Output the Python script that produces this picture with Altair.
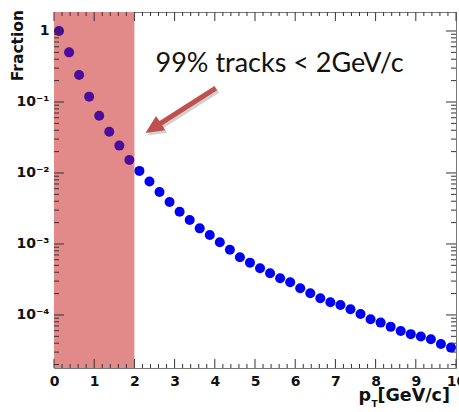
import altair as alt
import pandas as pd

# Track transverse-momentum spectrum (fraction per 0.25 GeV/c bin)
pt = [0.125, 0.375, 0.625, 0.875, 1.125, 1.375, 1.625, 1.875,
      2.125, 2.375, 2.625, 2.875, 3.125, 3.375, 3.625, 3.875,
      4.125, 4.375, 4.625, 4.875, 5.125, 5.375, 5.625, 5.875,
      6.125, 6.375, 6.625, 6.875, 7.125, 7.375, 7.625, 7.875,
      8.125, 8.375, 8.625, 8.875, 9.125, 9.375, 9.625, 9.875]
fraction = [1.0, 0.50, 0.24, 0.119, 0.064, 0.038, 0.0243, 0.0152,
            0.0107, 0.0076, 0.0054, 0.0039, 0.00285, 0.00218, 0.00166, 0.00134,
            0.00106, 0.00083, 0.00065, 0.000546, 0.000455, 0.000387, 0.000329, 0.000289,
            0.000238, 0.000202, 0.000172, 0.000151, 0.000138, 0.00012, 0.000103, 8.7e-5,
            7.8e-5, 6.8e-5, 5.95e-5, 5.37e-5, 4.96e-5, 4.55e-5, 3.9e-5, 3.47e-5]

# Shaded low-pT band
band_lo = [0.0]
band_hi = [2.0]

# Axis ticks and labels
x_major = [0, 1, 2, 3, 4, 5, 6, 7, 8, 9, 10]
x_minor = [i / 5 for i in range(51) if i % 5]
y_major = [1e-4, 1e-3, 1e-2, 1e-1, 1.0]
y_labels = ["10⁻⁴", "10⁻³", "10⁻²", "10⁻¹", "1"]
y_minor = [m * 10.0 ** k for k in range(-5, 1) for m in range(2, 10)
           if 1.79e-5 < m * 10.0 ** k < 1.85]

# Annotation: arrow tail -> tip, and text anchor
arrow_x = [4.025, 2.275]
arrow_y = [0.157, 0.0366]
note_x = [2.525]
note_y = [0.265]
note_text = ["99% tracks < 2GeV/c"]

W, H = 402, 356
FONT = "DejaVu Sans"
TICK = "#333333"
INK = "#111111"

xs = alt.Scale(domain=[0, 10], nice=False, zero=False)
ys = alt.Scale(type="log", domain=[1.79e-5, 1.852], nice=False)

label_expr = " : ".join(
    f"datum.value > {v * 0.5} ? '{lab}'" for v, lab in zip(reversed(y_major), reversed(y_labels))
) + " : ''"

x_axis = alt.Axis(values=x_major, labelFlush=False, domain=False, ticks=False,
                  grid=False, labelFont=FONT, labelFontSize=14,
                  labelFontWeight="bold", labelColor=INK, labelPadding=6, title=None)
y_axis = alt.Axis(values=y_major, labelExpr=label_expr, domain=False, ticks=False,
                  grid=False, labelFont=FONT, labelFontSize=14,
                  labelFontWeight="bold", labelColor=INK, labelPadding=5, title=None)


def X(field):
    return alt.X(field, scale=xs, axis=x_axis, title=None)


def Y(field):
    return alt.Y(field, scale=ys, axis=y_axis, title=None)


df = pd.DataFrame({"pt": pt, "fraction": fraction})

band = alt.Chart(pd.DataFrame({"lo": band_lo, "hi": band_hi})).mark_rect(
    color="#e28a8a", opacity=1
).encode(x=X("lo:Q"), x2="hi:Q", y=alt.value(0), y2=alt.value(H))

points = alt.Chart(df).mark_circle(size=100, opacity=1).encode(
    x=X("pt:Q"),
    y=Y("fraction:Q"),
    color=alt.condition(alt.datum.pt < band_hi[0], alt.value("#4b0c9e"), alt.value("#0000f2")),
)


def xticks(vals, length, top):
    d = pd.DataFrame({"v": vals})
    y0, y1 = (0, length) if top else (H, H - length)
    return alt.Chart(d).mark_rule(color=TICK, strokeWidth=1).encode(
        x=X("v:Q"), y=alt.value(y0), y2=alt.value(y1))


def yticks(vals, length, right):
    d = pd.DataFrame({"v": vals})
    x0, x1 = (W, W - length) if right else (0, length)
    return alt.Chart(d).mark_rule(color=TICK, strokeWidth=1).encode(
        y=Y("v:Q"), x=alt.value(x0), x2=alt.value(x1))


ticks = [
    xticks(x_major, 9, False), xticks(x_minor, 4, False),
    xticks(x_major, 9, True), xticks(x_minor, 4, True),
    yticks(y_major, 10, False), yticks(y_minor, 5, False),
    yticks(y_major, 10, True), yticks(y_minor, 5, True),
]

# Arrow: shaft stops short of the tip, head drawn as a rotated triangle
frac = 0.82
shaft = pd.DataFrame({
    "x": [arrow_x[0], arrow_x[0] + frac * (arrow_x[1] - arrow_x[0])],
    "y": [arrow_y[0], arrow_y[0] * (arrow_y[1] / arrow_y[0]) ** frac],
    "o": [0, 1],
})
tip = pd.DataFrame({"x": [arrow_x[1]], "y": [arrow_y[1]]})
head_path = "M0,0 L-0.47,1 L0.47,1 Z"

shadow_shaft = alt.Chart(shaft).mark_line(
    color="#000000", opacity=0.18, strokeWidth=5, xOffset=2, yOffset=2.5
).encode(x=X("x:Q"), y=Y("y:Q"), order="o:Q")
shadow_head = alt.Chart(tip).mark_point(
    shape=head_path, size=1300, angle=237.3, filled=True, color="#000000",
    opacity=0.18, strokeWidth=0, xOffset=2, yOffset=2.5
).encode(x=X("x:Q"), y=Y("y:Q"))
arrow_shaft = alt.Chart(shaft).mark_line(
    color="#c0504d", strokeWidth=5
).encode(x=X("x:Q"), y=Y("y:Q"), order="o:Q")
arrow_head = alt.Chart(tip).mark_point(
    shape=head_path, size=1300, angle=237.3, filled=True, color="#c0504d",
    opacity=1, strokeWidth=0
).encode(x=X("x:Q"), y=Y("y:Q"))

note = alt.Chart(pd.DataFrame({"x": note_x, "y": note_y, "t": note_text})).mark_text(
    font="Lato", fontSize=27, align="left", baseline="alphabetic", color=INK
).encode(x=X("x:Q"), y=Y("y:Q"), text="t:N")

# Axis titles
ytitle = alt.Chart(pd.DataFrame({"t": ["Fraction"]})).mark_text(
    font=FONT, fontSize=15.5, fontWeight="bold", angle=270, align="right",
    baseline="middle", color=INK
).encode(x=alt.value(-36), y=alt.value(-2), text="t:N")
xt_main = alt.Chart(pd.DataFrame({"t": ["[GeV/c]"]})).mark_text(
    font=FONT, fontSize=17.5, fontWeight="bold", align="right",
    baseline="alphabetic", color=INK
).encode(x=alt.value(396), y=alt.value(389), text="t:N")
xt_p = alt.Chart(pd.DataFrame({"t": ["p"]})).mark_text(
    font=FONT, fontSize=17.5, fontWeight="bold", align="right",
    baseline="alphabetic", color=INK
).encode(x=alt.value(317), y=alt.value(389), text="t:N")
xt_sub = alt.Chart(pd.DataFrame({"t": ["T"]})).mark_text(
    font=FONT, fontSize=9, fontWeight="bold", align="left",
    baseline="alphabetic", color=INK
).encode(x=alt.value(317.5), y=alt.value(395), text="t:N")

chart = alt.layer(
    band, points, *ticks, shadow_shaft, shadow_head, arrow_shaft, arrow_head, note,
    ytitle, xt_main, xt_p, xt_sub
).properties(
    width=W, height=H,
    autosize=alt.AutoSizeParams(type="none"),
    padding={"left": 54, "top": 12, "right": 3, "bottom": 44},
    background="white",
).configure_view(stroke="#777777", strokeWidth=1)

chart.save("out.html", embed_options={"renderer": "svg", "actions": False})
